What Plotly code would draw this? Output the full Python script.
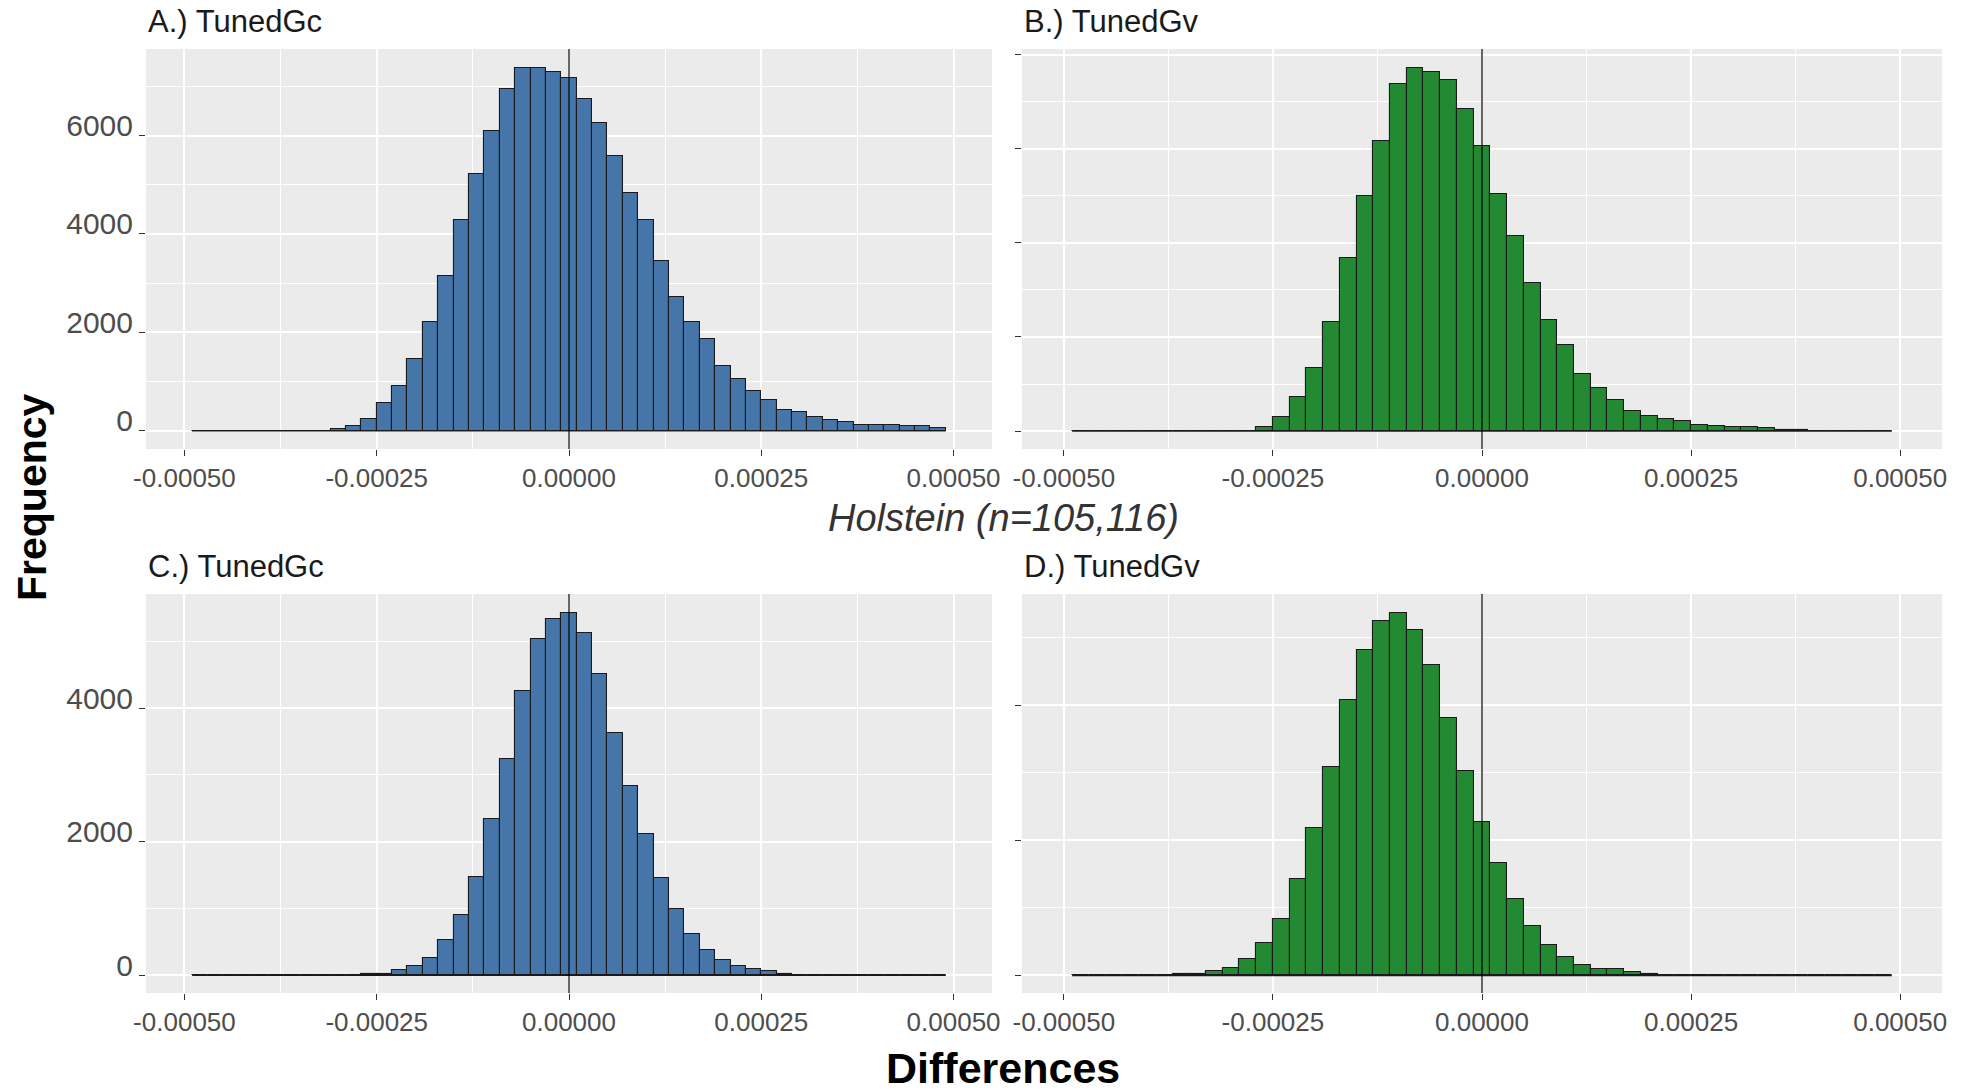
import plotly.graph_objects as go

# ---------------- data ----------------
BIN_START = -0.00049   # left edge of first bin
BIN_WIDTH = 0.00002

COUNTS_A = [0, 0, 0, 0, 0, 0, 0, 0, 0,
            30, 90, 245, 567, 904, 1464, 2221, 3152, 4280, 5219,
            6102, 6942, 7380, 7375, 7286, 7166, 6753, 6263, 5590, 4841,
            4280, 3461, 2725, 2221, 1870, 1310, 1058, 813, 623, 427,
            378, 273, 217, 189, 126, 126, 119, 91, 91, 56]
COUNTS_B = [0, 0, 0, 0, 0, 0, 0, 0, 0, 0, 0,
            95, 293, 718, 1333, 2322, 3670, 5004, 6154, 7363, 7722,
            7619, 7465, 6835, 6051, 5033, 4154, 3143, 2352, 1839, 1216,
            908, 652, 425, 322, 256, 205, 139, 117, 88, 88,
            59, 29, 29, 0, 0, 0, 0, 0]
COUNTS_C = [0, 0, 0, 0, 0, 0, 0, 0, 0, 0, 0,
            21, 21, 73, 142, 257, 535, 898, 1475, 2346, 3244,
            4252, 5029, 5328, 5423, 5123, 4509, 3633, 2829, 2115, 1449,
            997, 625, 378, 236, 142, 94, 68, 26,
            0, 0, 0, 0, 0, 0, 0, 0, 0, 0]
COUNTS_D = [0, 0, 0, 0, 0, 0,
            16, 21, 73, 114, 249, 478, 842, 1434, 2182, 3091,
            4073, 4816, 5247, 5366, 5117, 4597, 3818, 3023, 2275, 1668,
            1138, 727, 452, 270, 156, 94, 94, 52, 26,
            0, 0, 0, 0, 0, 0, 0, 0, 0, 0, 0, 0, 0, 0]

PANEL_TITLES = ["A.) TunedGc", "B.) TunedGv", "C.) TunedGc", "D.) TunedGv"]
X_TICKS = [-0.0005, -0.00025, 0.0, 0.00025, 0.0005]
X_TICK_LABELS = ["-0.00050", "-0.00025", "0.00000", "0.00025", "0.00050"]
X_MINOR = [-0.000375, -0.000125, 0.000125, 0.000375]
REF_X = 0.0
MIDDLE_LABEL = "Holstein (n=105,116)"
X_TITLE = "Differences"
Y_TITLE = "Frequency"

BLUE = "#4575A9"
GREEN = "#238A33"

# ---------------- layout geometry ----------------
W, H = 1977, 1091
FONT = "Liberation Sans, Arial, sans-serif"


def xd(a, b):
    return [a / W, b / W]


def yd(top, bottom):
    return [1 - bottom / H, 1 - top / H]


panels = [
    dict(counts=COUNTS_A, color=BLUE, xdom=xd(146, 992), ydom=yd(49, 449),
         yrange=[-370, 7760], yt=[0, 2000, 4000, 6000], ym=[1000, 3000, 5000, 7000],
         labels=True, title_xy=(146, 21)),
    dict(counts=COUNTS_B, color=GREEN, xdom=xd(1022, 1942), ydom=yd(49, 449),
         yrange=[-381, 8117], yt=[0, 2000, 4000, 6000, 8000], ym=[1000, 3000, 5000, 7000],
         labels=False, title_xy=(1022, 21)),
    dict(counts=COUNTS_C, color=BLUE, xdom=xd(146, 992), ydom=yd(594, 993),
         yrange=[-265, 5706], yt=[0, 2000, 4000], ym=[1000, 3000, 5000],
         labels=True, title_xy=(146, 566)),
    dict(counts=COUNTS_D, color=GREEN, xdom=xd(1022, 1942), ydom=yd(594, 993),
         yrange=[-260, 5647], yt=[0, 2000, 4000], ym=[1000, 3000, 5000],
         labels=False, title_xy=(1022, 566)),
]

fig = go.Figure()
annotations = []
shapes = []
layout = {}

for i, p in enumerate(panels):
    n = i + 1
    sfx = "" if n == 1 else str(n)
    xref, yref = "x" + sfx, "y" + sfx
    counts = p["counts"]
    centers = [BIN_START + BIN_WIDTH * (j + 0.5) for j in range(len(counts))]
    lo = BIN_START
    hi = BIN_START + BIN_WIDTH * len(counts)

    fig.add_trace(go.Bar(
        x=centers, y=counts, width=BIN_WIDTH,
        marker=dict(color=p["color"], line=dict(color="#1a1a1a", width=1.1)),
        xaxis=xref, yaxis=yref, showlegend=False, hoverinfo="x+y"))
    # outline of empty bins (drawn as a flat line like ggplot)
    fig.add_trace(go.Scatter(
        x=[lo, hi], y=[0, 0], mode="lines",
        line=dict(color="#1a1a1a", width=1.6),
        xaxis=xref, yaxis=yref, showlegend=False, hoverinfo="skip"))

    layout["xaxis" + sfx] = dict(
        domain=p["xdom"], anchor=yref, range=[-0.00055, 0.00055],
        automargin=False,
        tickmode="array", tickvals=X_TICKS, ticktext=X_TICK_LABELS,
        ticks="outside", ticklen=6, tickwidth=1.3, tickcolor="#333333",
        showgrid=True, gridcolor="white", gridwidth=1.8,
        minor=dict(tickmode="array", tickvals=X_MINOR, showgrid=True,
                   gridcolor="white", gridwidth=0.9, ticks=""),
        zeroline=False, showline=False,
        tickfont=dict(family=FONT, size=26, color="#4D4D4D"),
        fixedrange=True)
    layout["yaxis" + sfx] = dict(
        domain=p["ydom"], anchor=xref, range=p["yrange"],
        automargin=False,
        tickmode="array", tickvals=p["yt"],
        ticktext=[str(v) for v in p["yt"]] if p["labels"] else [""] * len(p["yt"]),
        ticks="outside", ticklen=6, tickwidth=1.3, tickcolor="#333333",
        showgrid=True, gridcolor="white", gridwidth=1.8,
        minor=dict(tickmode="array", tickvals=p["ym"], showgrid=True,
                   gridcolor="white", gridwidth=0.9, ticks=""),
        zeroline=False, showline=False,
        tickfont=dict(family=FONT, size=30, color="#4D4D4D"),
        ticklabelshift=-10, ticklabelstandoff=0,
        fixedrange=True)

    shapes.append(dict(type="line", xref=xref, yref=yref + " domain",
                       x0=REF_X, x1=REF_X, y0=0, y1=1,
                       line=dict(color="black", width=1.2), layer="above"))

    tx, ty = p["title_xy"]
    annotations.append(dict(text=PANEL_TITLES[i], xref="paper", yref="paper",
                            x=tx / W, y=1 - ty / H, xanchor="left", yanchor="middle",
                            showarrow=False,
                            font=dict(family=FONT, size=31, color="#1a1a1a")))

annotations += [
    dict(text="<b>" + Y_TITLE + "</b>", xref="paper", yref="paper",
         x=32 / W, y=1 - 497 / H, xanchor="center", yanchor="middle",
         textangle=-90, showarrow=False,
         font=dict(family=FONT, size=41, color="black")),
    dict(text="<i>" + MIDDLE_LABEL + "</i>", xref="paper", yref="paper",
         x=1004 / W, y=1 - 518 / H, xanchor="center", yanchor="middle",
         showarrow=False,
         font=dict(family=FONT, size=38, color="#333333")),
    dict(text="<b>" + X_TITLE + "</b>", xref="paper", yref="paper",
         x=1003 / W, y=1 - 1068 / H, xanchor="center", yanchor="middle",
         showarrow=False,
         font=dict(family=FONT, size=43, color="black")),
]

fig.update_layout(
    width=W, height=H,
    margin=dict(l=0, r=0, t=0, b=0, pad=0, autoexpand=False),
    paper_bgcolor="white", plot_bgcolor="#EBEBEB",
    barmode="overlay", bargap=0,
    annotations=annotations, shapes=shapes,
    showlegend=False,
    font=dict(family=FONT),
    **layout)

fig.write_html("out.html",
               config={"displayModeBar": False},
               post_script="document.body.style.margin='0px';"
                           "document.body.style.overflow='hidden';")
